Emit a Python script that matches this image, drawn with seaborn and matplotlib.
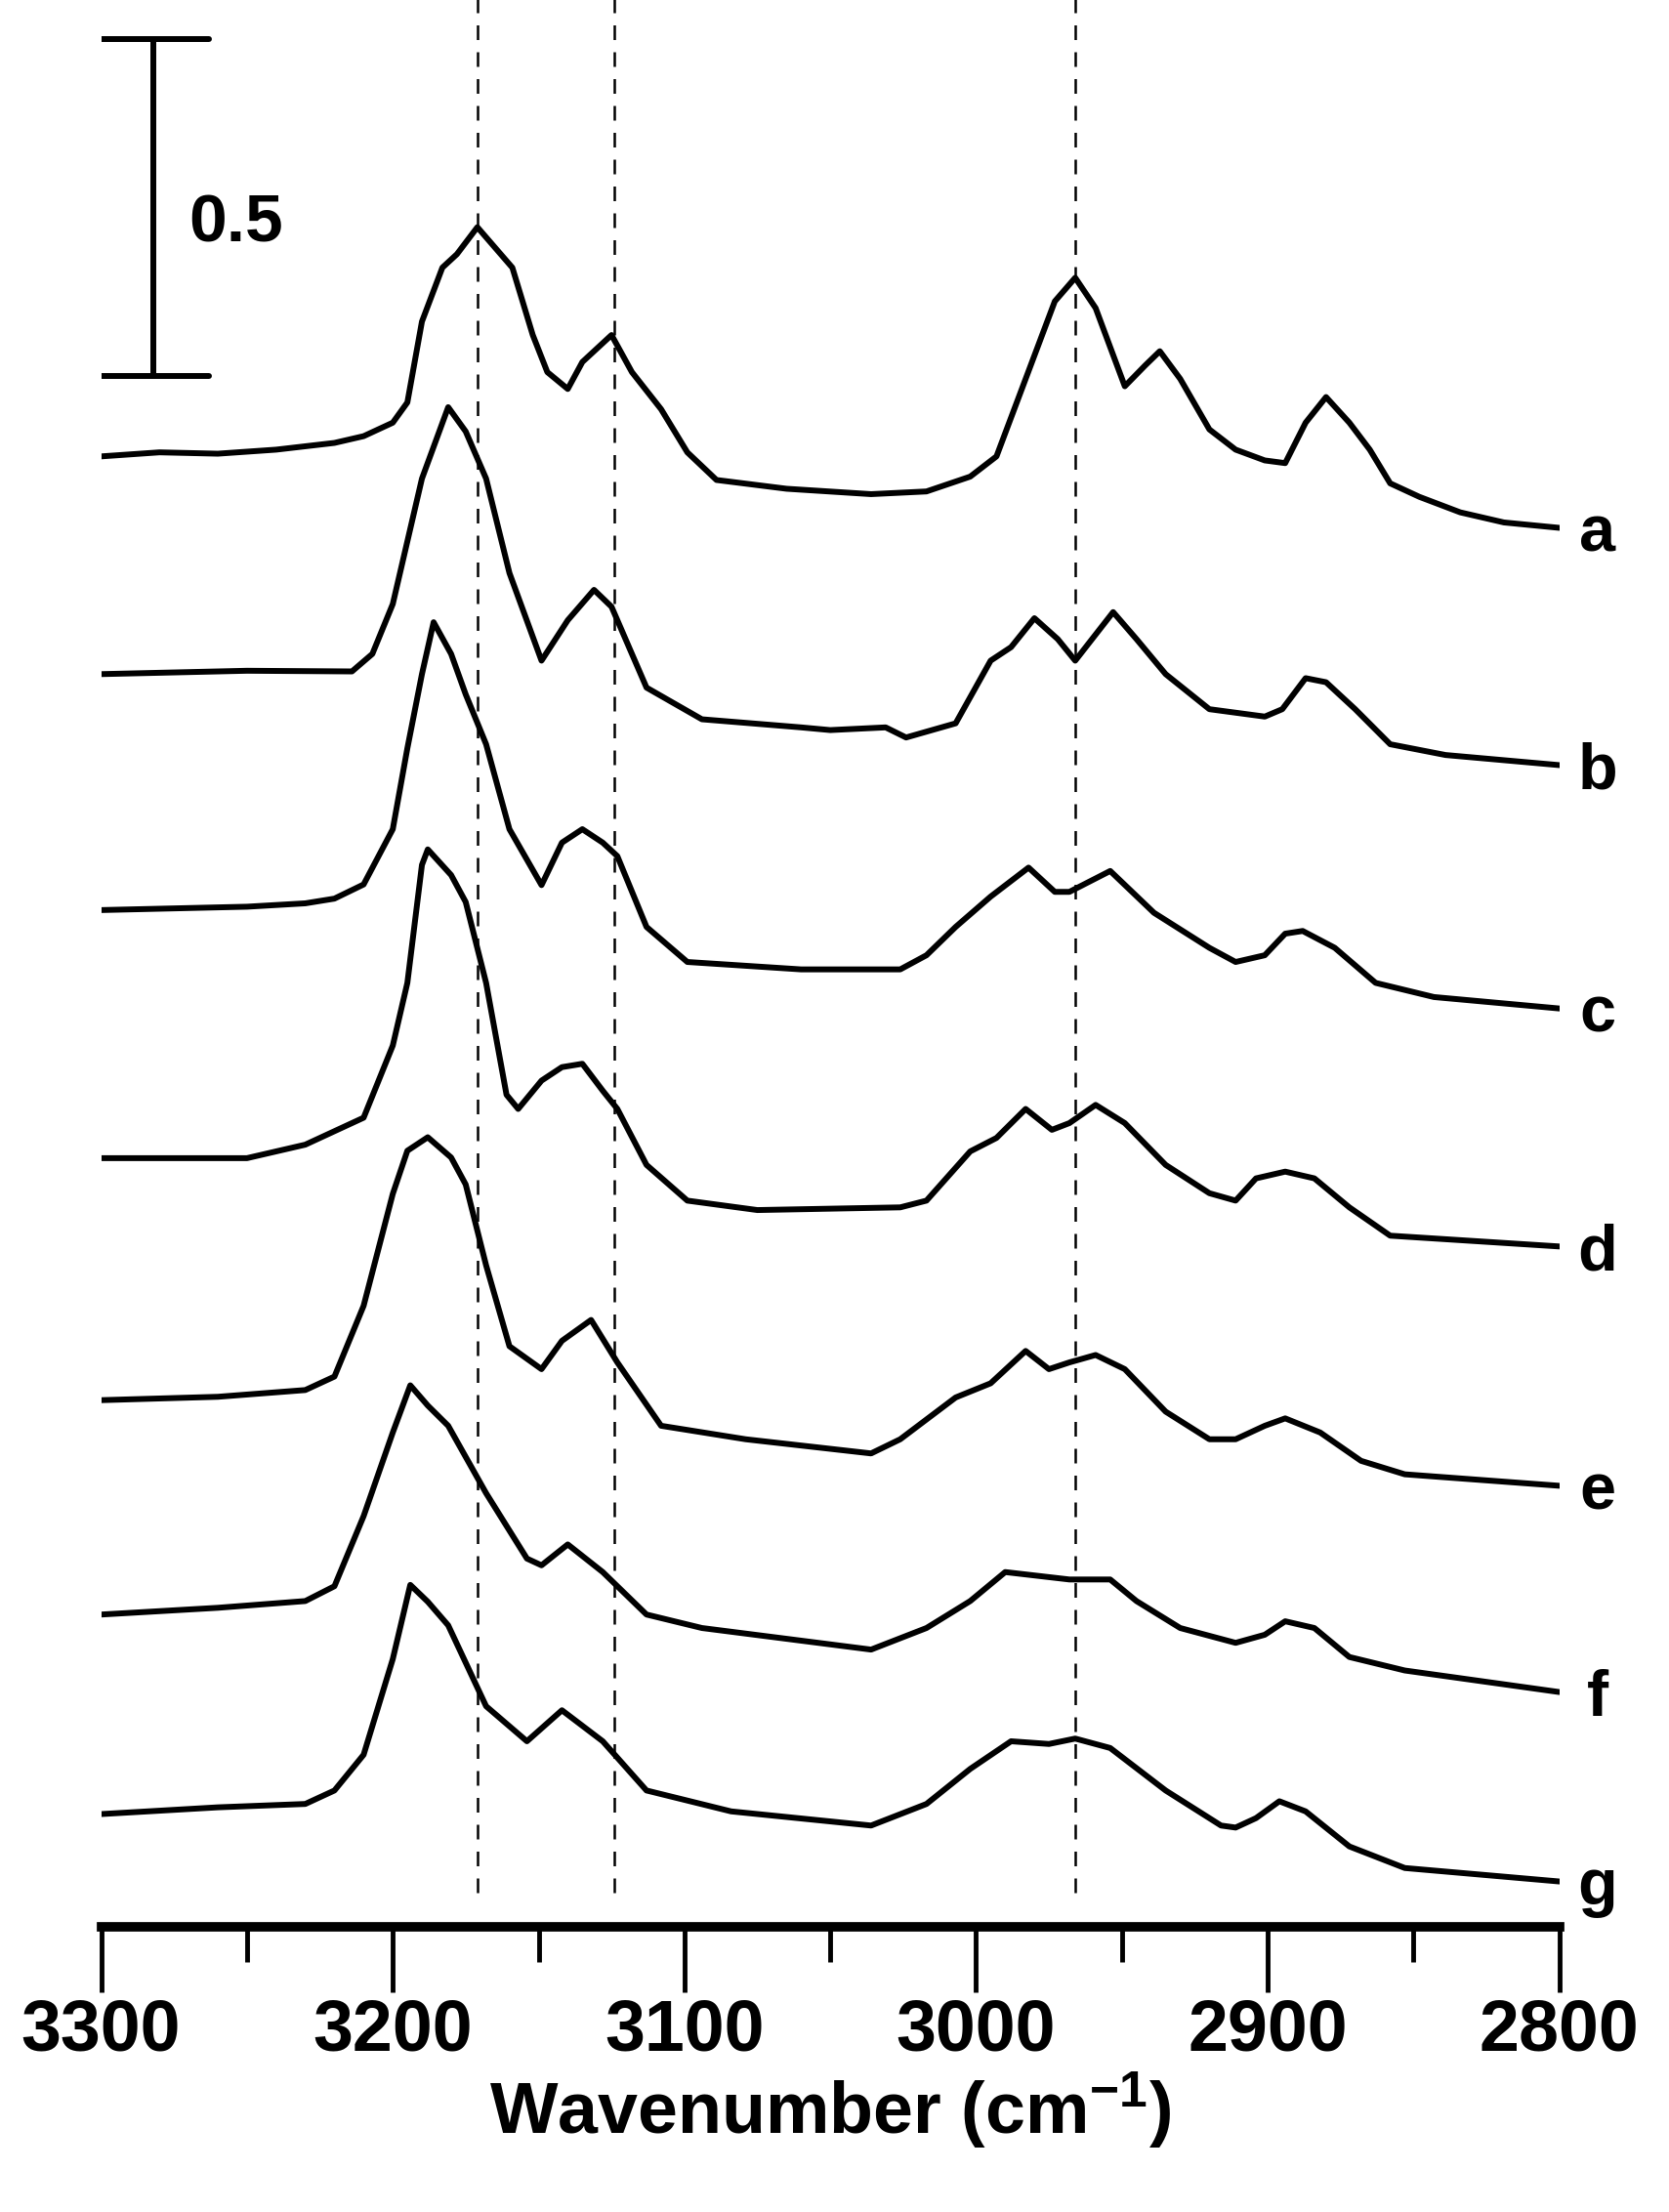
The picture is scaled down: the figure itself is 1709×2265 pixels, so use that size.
import numpy as np
import pandas as pd
import matplotlib
matplotlib.use("Agg")
import matplotlib.pyplot as plt
import seaborn as sns

sns.set_theme(style="white")
plt.rcParams['font.family'] = ['Liberation Sans', 'DejaVu Sans']
plt.rcParams['text.color'] = 'black'
plt.rcParams['axes.labelcolor'] = 'black'
plt.rcParams['xtick.color'] = 'black'
plt.rcParams['mathtext.fontset'] = 'custom'
plt.rcParams['mathtext.rm'] = 'Liberation Sans:bold'
plt.rcParams['mathtext.default'] = 'rm'

labels = ["a", "b", "c", "d", "e", "f", "g"]
offsets = [2.181, 1.858, 1.508, 1.140, 0.781, 0.463, 0.167]

wn_a = [3300,3280,3260,3240,3220,3210,3200,3195,3190,3183,3178,3171,3165,3159,3152,3147,3140,3135,3130,3125,3118,3108,3099,3089,3065,3036,3017,3002,2993,2983,2973,2966,2959,2949,2942,2937,2930,2920,2911,2901,2894,2887,2880,2872,2865,2858,2848,2834,2819,2800]
ab_a = [0,0.6,0.4,1,2,3,5,8,20,28,30,34,31,28,18,12.5,10,14,16,18,12.5,7,0.6,-3.5,-4.8,-5.6,-5.2,-3,0,11.5,23,26.5,22,10.4,13.5,15.6,11.5,4,1,-0.6,-1,5,8.8,5,1,-4,-6,-8.3,-9.8,-10.6]

wn_b = [3300,3250,3214,3207,3200,3190,3181,3175,3168,3160,3149,3140,3131,3125,3113,3094,3060,3050,3031,3024,3007,2995,2988,2980,2972,2966,2953,2945,2935,2920,2901,2895,2887,2880,2870,2858,2839,2800]
ab_b = [0,0.5,0.4,3,10.4,29,39.6,36,29,15,2,8,12.5,10,-2,-6.7,-7.9,-8.3,-7.9,-9.4,-7.3,2,4,8.3,5.2,2,9.2,5.2,0,-5.2,-6.3,-5.2,-0.6,-1.2,-5.2,-10.4,-12,-13.5]

wn_c = [3300,3250,3230,3220,3210,3200,3195,3190,3186,3180,3175,3168,3160,3149,3142,3135,3128,3123,3113,3099,3060,3026,3017,3007,2995,2982,2973,2968,2954,2939,2920,2911,2901,2894,2888,2877,2863,2843,2800]
ab_c = [0,0.5,1,1.7,3.8,12,24,35,42.7,38,32,24.6,12,3.7,10,12,10,8,-2.5,-7.7,-8.8,-8.8,-6.7,-2.5,2,6.3,2.7,2.7,5.8,-0.4,-5.6,-7.7,-6.7,-3.5,-3.1,-5.6,-10.8,-12.9,-14.6]

wn_d = [3300,3250,3230,3220,3210,3200,3195,3190,3188,3180,3175,3168,3161,3157,3149,3142,3135,3128,3123,3113,3099,3075,3026,3017,3002,2993,2983,2974,2968,2959,2949,2935,2920,2911,2904,2894,2884,2872,2858,2800]
ab_d = [0,0,2,4,6,16.7,26,43.5,45.8,42,38,26,9.4,7.3,11.5,13.5,14,10,7.3,-1,-6.3,-7.7,-7.3,-6.3,1,3,7.3,4.2,5.2,7.9,5.2,-1,-5.2,-6.3,-3,-2,-3,-7.3,-11.5,-13.1]

wn_e = [3300,3260,3230,3220,3210,3200,3195,3188,3180,3175,3168,3160,3149,3142,3132,3123,3108,3079,3036,3026,3007,2995,2983,2975,2968,2959,2949,2935,2920,2911,2901,2894,2882,2868,2853,2800]
ab_e = [0,0.5,1.5,3.5,14,30.6,37,39,36,32,20,8,4.6,8.8,11.9,5.6,-3.8,-5.8,-7.9,-5.8,0.4,2.5,7.3,4.6,5.6,6.7,4.6,-1.7,-5.8,-5.8,-3.8,-2.7,-4.8,-9,-11,-12.7]

wn_f = [3300,3260,3230,3220,3210,3200,3194,3188,3181,3168,3154,3149,3140,3128,3113,3094,3036,3017,3002,2990,2968,2954,2945,2930,2911,2901,2894,2884,2872,2853,2800]
ab_f = [0,1,2,4.2,14.6,27,34,31,28,18,8.3,7.3,10.4,6.3,0,-2,-5.2,-2,2,6.3,5.2,5.2,2,-2,-4.2,-3,-1,-2,-6.3,-8.3,-11.5]

wn_g = [3300,3260,3230,3220,3210,3200,3194,3188,3181,3168,3154,3142,3128,3113,3084,3036,3017,3002,2988,2975,2966,2954,2935,2916,2911,2904,2896,2887,2872,2853,2800]
ab_g = [0,1,1.5,3.5,8.8,23,34,31.5,28,16,10.8,15.4,10.8,3.5,0.4,-1.7,1.5,6.7,10.8,10.4,11.2,9.8,3.5,-1.7,-2,-0.6,1.9,0.4,-4.8,-8,-10]

dashed_positions = [3171, 3124, 2966]
xticks_major = [3300, 3200, 3100, 3000, 2900, 2800]

series = [(wn_a, ab_a), (wn_b, ab_b), (wn_c, ab_c), (wn_d, ab_d),
          (wn_e, ab_e), (wn_f, ab_f), (wn_g, ab_g)]

frames = []
for lab, off, (w, a) in zip(labels, offsets, series):
    frames.append(pd.DataFrame({"wn": w, "y": off + np.array(a) / 100.0, "s": lab}))
df = pd.concat(frames, ignore_index=True)

fig = plt.figure(figsize=(17.09, 22.65), dpi=100)
ax = fig.add_axes([0.0606, 0.129, 0.8737, 0.871])

for lab in labels:
    sub = df[df.s == lab]
    sns.lineplot(data=sub, x="wn", y="y", sort=False, color="black", lw=4.3, ax=ax, legend=False)
    ax.text(2787, sub.y.iloc[-1] - 0.01, lab, fontsize=48, fontweight="bold",
            color="black", ha="center", va="center")

for d in dashed_positions:
    ax.plot([d, d], [0.05, 2.86], color="black", lw=1.8, ls=(0, (6, 5)))

# scale bar
ax.plot([3282, 3282], [2.30, 2.80], color="black", lw=4.3, solid_capstyle="butt")
ax.plot([3300, 3263], [2.80, 2.80], color="black", lw=4.3)
ax.plot([3300, 3263], [2.30, 2.30], color="black", lw=4.3)
ax.text(3270, 2.525, "0.5", fontsize=50, fontweight="bold", color="black", ha="left", va="center")

ax.set_xlim(3300, 2800)
ax.set_ylim(0, 2.858)
for s in ["top", "right", "left"]:
    ax.spines[s].set_visible(False)
ax.spines["bottom"].set_linewidth(7)
ax.spines["bottom"].set_color("black")
ax.set_yticks([])
ax.set_xticks(xticks_major)
ax.set_xticks(np.arange(2850, 3300, 100), minor=True)
ax.tick_params(axis="x", which="major", direction="out", length=48, width=3.5, pad=4,
               labelsize=53, bottom=True)
ax.tick_params(axis="x", which="minor", direction="out", length=26, width=3.5, bottom=True)
for t in ax.get_xticklabels():
    t.set_fontweight("bold")
ax.set_xlabel("Wavenumber (cm$^{-1}$)", fontsize=53, fontweight="bold", labelpad=4)
ax.set_ylabel("")

fig.savefig("out.png", dpi=100)
